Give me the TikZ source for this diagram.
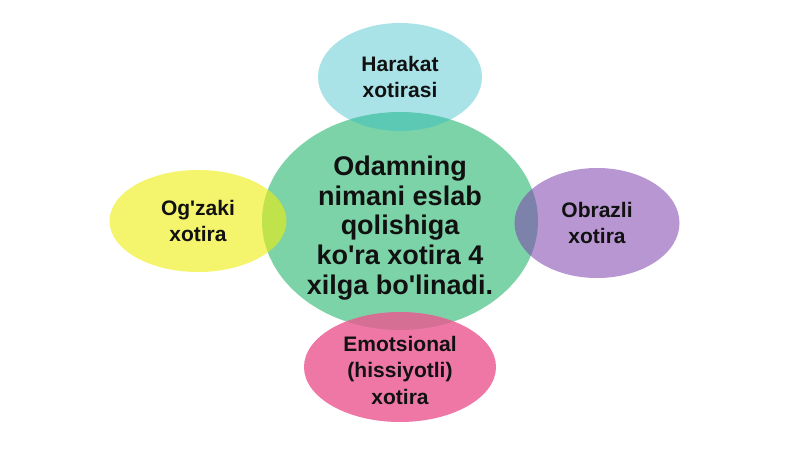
\documentclass[tikz,border=0pt]{standalone}
\usepackage{fontspec}
\setmainfont{Liberation Sans}[Ligatures=TeXOff]
\usetikzlibrary{shapes.geometric}
\definecolor{cgreen}{RGB}{125,211,168}
\definecolor{ccyan}{RGB}{42,187,197}
\definecolor{cyellow}{RGB}{238,238,13}
\definecolor{cpurple}{RGB}{125,64,173}
\definecolor{cpink}{RGB}{236,86,143}
\definecolor{ctext}{RGB}{17,17,17}
\tikzset{
  blob/.style={ellipse, inner sep=0pt, text=ctext, text opacity=1, align=center,
    font=\fontsize{21}{26.5}\selectfont\bfseries},
  mainblob/.style={blob, fill=cgreen},
}
\begin{document}
\begin{tikzpicture}[x=1pt,y=-1pt]
\useasboundingbox[fill=white] (0,0) rectangle (800,449);
\node[mainblob, minimum width=276pt, minimum height=218pt] (center) at (400,221) {};
\node[font=\fontsize{27}{29.6}\selectfont\bfseries, text=ctext, align=center] (ctext) at (400,228) {Odamning\\nimani eslab\\qolishiga\\ko'ra xotira 4\\xilga bo'linadi.};
\node[blob, fill=ccyan, fill opacity=0.4, minimum width=164pt, minimum height=108pt] (top) at (400,77) {Harakat\\xotirasi};
\node[blob, fill=cyellow, fill opacity=0.6, minimum width=177pt, minimum height=102pt] (left) at (198,221) {Og'zaki\\xotira};
\node[blob, fill=cpurple, fill opacity=0.55, minimum width=165pt, minimum height=110pt] (right) at (597,223) {Obrazli\\xotira};
\node[blob, fill=cpink, fill opacity=0.8, minimum width=192pt, minimum height=110pt] (bottom) at (400,367) {};
\node[blob] (btext) at (400,370) {Emotsional\\(hissiyotli)\\xotira};
\end{tikzpicture}
\end{document}
